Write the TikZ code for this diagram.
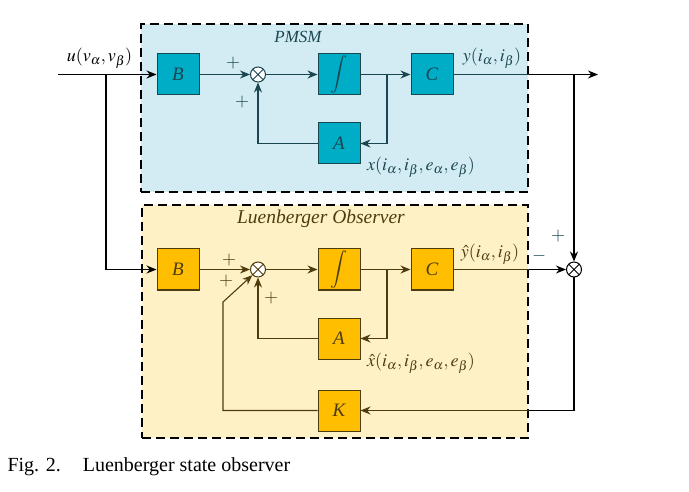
\documentclass[tikz,border=0pt]{standalone}
\usepackage{mathptmx}
\usepackage{fontspec}
\setmainfont{Liberation Serif}
\usetikzlibrary{arrows.meta,calc}
\definecolor{pbg}{HTML}{D3ECF3}
\definecolor{pblk}{HTML}{00ADC6}
\definecolor{pdk}{HTML}{1A4650}
\definecolor{obg}{HTML}{FFF1C6}
\definecolor{oblk}{HTML}{FFBF00}
\definecolor{odk}{HTML}{4E3C0E}
\begin{document}
\begin{tikzpicture}[x=1pt,y=-1pt,
  lbl/.style={font=\fontsize{18}{20}\selectfont, inner sep=0pt},
  blk/.style={draw, line width=1pt, minimum width=42pt, minimum height=41pt, inner sep=0pt, font=\fontsize{19}{21}\selectfont\itshape},
  pblock/.style={blk, fill=pblk, draw=pdk, text=pdk},
  oblock/.style={blk, fill=oblk, draw=odk, text=odk},
  sumnode/.style={circle, draw, fill=white, line width=1pt, minimum size=15pt, inner sep=0pt,
     path picture={\draw[line width=0.9pt] (path picture bounding box.north west) -- (path picture bounding box.south east)
       (path picture bounding box.north east) -- (path picture bounding box.south west);}},
  arr/.style={-{Stealth[length=10pt,width=8pt]}, line width=1.1pt},
  frame/.style={dash pattern=on 9pt off 5pt, line width=1.6pt, draw=black}
]
\useasboundingbox (0,0) rectangle (689,492);
% backgrounds
\node[frame, fill=pbg, minimum width=387pt, minimum height=168pt, inner sep=0pt, anchor=north west] (pbox) at (140,23) {};
\node[frame, fill=obg, minimum width=386pt, minimum height=233pt, inner sep=0pt, anchor=north west] (obox) at (141,204) {};
\node[text=pdk, font=\fontsize{17}{19}\selectfont\itshape] (ptitle) at (298,37) {PMSM};
\node[text=odk, font=\fontsize{19.5}{21}\selectfont\itshape] (otitle) at (321,219) {Luenberger Observer};

% PMSM blocks
\node[pblock] (pB) at (178,74.5) {B};
\node[sumnode, draw=pdk] (psum) at (258,74.5) {};
\node[pblock] (pI) at (339,74.5) {$\displaystyle\int$};
\node[pblock] (pC) at (432,74.5) {C};
\node[pblock] (pA) at (339,143.5) {A};
\coordinate (pbr) at (387,74.5);
\coordinate (in) at (58,74.5);
\coordinate (ibr) at (106,74.5);
\coordinate (out) at (598,74.5);
\coordinate (obr) at (574,74.5);

% Observer blocks
\node[oblock] (oB) at (178,269.5) {B};
\node[sumnode, draw=odk] (osum) at (258,269.5) {};
\node[oblock] (oI) at (339,269.5) {$\displaystyle\int$};
\node[oblock] (oC) at (432,269.5) {C};
\node[oblock] (oA) at (339,338.5) {A};
\node[oblock] (oK) at (339,410.5) {K};
\node[sumnode, draw=black] (esum) at (574,269.5) {};
\coordinate (obrI) at (387,269.5);
\coordinate (kc) at (223,302);

% PMSM connectors
\draw[arr, black] (in) -- (pB.west);
\draw[arr, draw=pdk] (pB.east) -- (psum.west);
\draw[arr, draw=pdk] (psum.east) -- (pI.west);
\draw[arr, draw=pdk] (pI.east) -- (pC.west);
\draw[arr, draw=pdk] (pbr) |- (pA.east);
\draw[arr, draw=pdk] (pA.west) -| (psum.south);
\draw[line width=1.1pt, draw=pdk] (pC.east) -- (pbox.east |- pC.east);
\draw[arr, black] (pbox.east |- pC.east) -- (out);
\draw[arr, black] (obr) -- (esum.north);
\draw[arr, black] (ibr) |- (oB.west);

% Observer connectors
\draw[arr, draw=odk] (oB.east) -- (osum.west);
\draw[arr, draw=odk] (osum.east) -- (oI.west);
\draw[arr, draw=odk] (oI.east) -- (oC.west);
\draw[arr, draw=odk] (obrI) |- (oA.east);
\draw[arr, draw=odk] (oA.west) -| (osum.south);
\draw[line width=1.1pt, draw=odk] (oC.east) -- (obox.east |- oC.east);
\draw[arr, black] (obox.east |- oC.east) -- (esum.west);
\draw[line width=1.1pt, black] (esum.south) |- (obox.east |- oK.east);
\draw[arr, draw=odk] (obox.east |- oK.east) -- (oK.east);
\draw[arr, draw=odk] (oK.west) -| (kc) -- (osum.south west);

% labels
\node[lbl, text=pdk] (l1) at (233,63) {$+$};
\node[lbl, text=pdk] (l2) at (242,102) {$+$};
\node[lbl] (lu) at (99.5,58) {$u(v_\alpha,v_\beta)$};
\node[lbl, text=pdk] (ly) at (492,58) {$y(i_\alpha,i_\beta)$};
\node[lbl, text=pdk] (lx) at (421,167) {$x(i_\alpha,i_\beta,e_\alpha,e_\beta)$};
\node[lbl, text=odk] (l3) at (229,260) {$+$};
\node[lbl, text=odk] (l4) at (226,281) {$+$};
\node[lbl, text=odk] (l5) at (271,298) {$+$};
\node[lbl, text=odk] (lyh) at (490,254) {$\hat{y}(i_\alpha,i_\beta)$};
\node[lbl, text=odk] (lxh) at (421,363) {$\hat{x}(i_\alpha,i_\beta,e_\alpha,e_\beta)$};
\node[lbl, text=pdk] (lm) at (539,256) {$-$};
\node[lbl, text=pdk] (lp) at (558,236) {$+$};
\node[anchor=west, font=\fontsize{20}{22}\selectfont] (cap) at (4,467) {Fig. 2.\hspace{1.1em}Luenberger state observer};
\end{tikzpicture}
\end{document}
